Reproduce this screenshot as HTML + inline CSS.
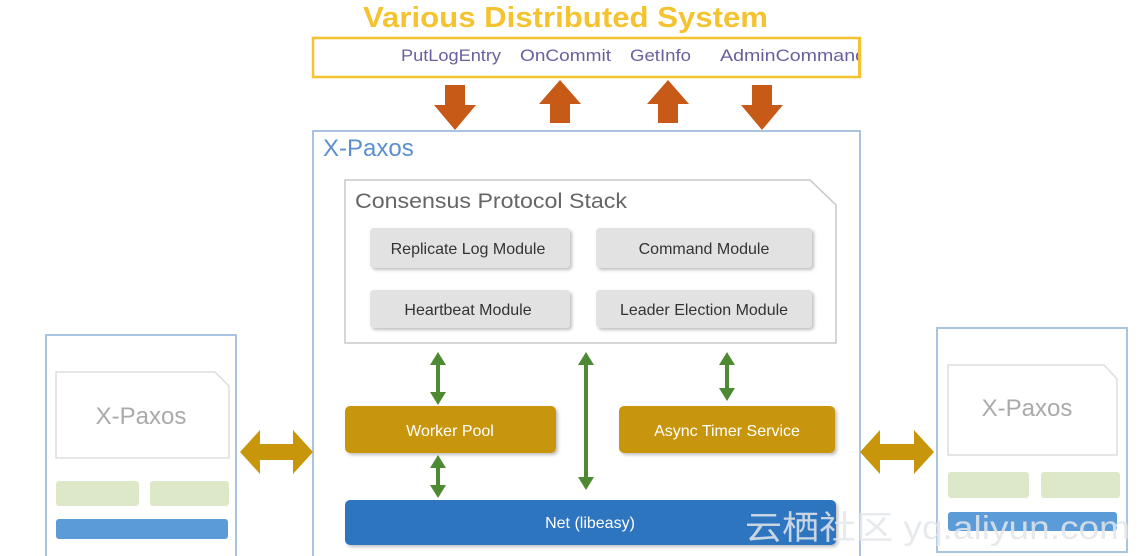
<!DOCTYPE html><html><head><meta charset="utf-8"><style>body{margin:0;background:#fff}svg{display:block}</style></head><body>
<svg width="1138" height="556" xmlns="http://www.w3.org/2000/svg" font-family="Liberation Sans, sans-serif">
<defs><filter id="sh" x="-10%" y="-20%" width="130%" height="150%"><feDropShadow dx="2" dy="2" stdDeviation="1.5" flood-color="#000" flood-opacity="0.25"/></filter>
<clipPath id="cb"><rect x="313" y="38" width="546" height="40"/></clipPath></defs>
<text x="363" y="27" textLength="405" lengthAdjust="spacingAndGlyphs" font-size="29" font-weight="bold" fill="#f5c330">Various Distributed System</text>
<rect x="313" y="38" width="547" height="39" fill="#fff" stroke="#f5c330" stroke-width="2.5"/>
<g font-size="17" fill="#6b5e9e" clip-path="url(#cb)"><text x="401" y="61" textLength="100" lengthAdjust="spacingAndGlyphs">PutLogEntry</text><text x="520" y="61" textLength="91" lengthAdjust="spacingAndGlyphs">OnCommit</text><text x="630" y="61" textLength="61" lengthAdjust="spacingAndGlyphs">GetInfo</text><text x="720" y="61" textLength="146" lengthAdjust="spacingAndGlyphs">AdminCommand</text></g>
<rect x="858" y="39" width="2.5" height="38" fill="#f5c330"/>
<g fill="#c85a18">
<polygon points="445,85 465,85 465,105 476,105 455,130 434,105 445,105"/>
<polygon points="550,123 570,123 570,104 581,104 560,80 539,104 550,104"/>
<polygon points="658,123 678,123 678,104 689,104 668,80 647,104 658,104"/>
<polygon points="752,85 772,85 772,105 783,105 762,130 741,105 752,105"/>
</g>
<rect x="313" y="131" width="547" height="430" fill="none" stroke="#a8c4e0" stroke-width="2"/>
<text x="323" y="156" font-size="24" fill="#5b8fd0">X-Paxos</text>
<polygon points="345,180 810,180 836,205 836,343 345,343" fill="#fff" stroke="#c8c8c8" stroke-width="1.5"/>
<text x="355" y="208" font-size="21" fill="#666" textLength="272" lengthAdjust="spacingAndGlyphs">Consensus Protocol Stack</text>
<g fill="#e2e2e2" filter="url(#sh)">
<rect x="370" y="228" width="200" height="40" rx="4"/><rect x="596" y="228" width="216" height="40" rx="4"/>
<rect x="370" y="290" width="200" height="38" rx="4"/><rect x="596" y="290" width="216" height="38" rx="4"/>
</g>
<g font-size="16" fill="#333" text-anchor="middle">
<text x="468" y="254">Replicate Log Module</text><text x="704" y="254">Command Module</text>
<text x="468" y="315">Heartbeat Module</text><text x="704" y="315">Leader Election Module</text>
</g>
<g stroke="#4e8a34" stroke-width="4"><line x1="438" y1="362" x2="438" y2="395"/><line x1="586" y1="362" x2="586" y2="480"/><line x1="727" y1="362" x2="727" y2="391"/><line x1="438" y1="465" x2="438" y2="488"/></g>
<g fill="#4e8a34">
<polygon points="438,352 430,365 446,365"/><polygon points="438,405 430,392 446,392"/>
<polygon points="586,352 578,365 594,365"/><polygon points="586,490 578,477 594,477"/>
<polygon points="727,352 719,365 735,365"/><polygon points="727,401 719,388 735,388"/>
<polygon points="438,455 430,468 446,468"/><polygon points="438,498 430,485 446,485"/>
</g>
<g filter="url(#sh)"><rect x="345" y="406" width="211" height="47" rx="5" fill="#c8960a"/><rect x="619" y="406" width="216" height="47" rx="5" fill="#c8960a"/>
<rect x="345" y="500" width="491" height="45" rx="5" fill="#2e75c0"/></g>
<g font-size="16" fill="#fff" text-anchor="middle"><text x="450" y="436">Worker Pool</text><text x="727" y="436">Async Timer Service</text><text x="590" y="528">Net (libeasy)</text></g>
<rect x="46" y="335" width="190" height="230" fill="none" stroke="#a8c4e0" stroke-width="2"/>
<polygon points="56,372 215,372 229,386 229,458 56,458" fill="#fff" stroke="#ddd" stroke-width="1.5"/>
<text x="141" y="424" text-anchor="middle" font-size="24" fill="#aaa">X-Paxos</text>
<rect x="56" y="481" width="83" height="25" rx="3" fill="#dde8c8"/><rect x="150" y="481" width="79" height="25" rx="3" fill="#dde8c8"/>
<rect x="56" y="519" width="172" height="20" rx="3" fill="#5b9bd8"/>
<rect x="937" y="328" width="190" height="224" fill="none" stroke="#a8c4e0" stroke-width="2"/>
<polygon points="948,365 1104,365 1117,379 1117,455 948,455" fill="#fff" stroke="#ddd" stroke-width="1.5"/>
<text x="1027" y="416" text-anchor="middle" font-size="24" fill="#aaa">X-Paxos</text>
<rect x="948" y="472" width="81" height="26" rx="3" fill="#dde8c8"/><rect x="1041" y="472" width="79" height="26" rx="3" fill="#dde8c8"/>
<rect x="948" y="512" width="169" height="19" rx="3" fill="#5b9bd8"/>
<g fill="#c8960a">
<polygon points="240,452 260,430 260,444 293,444 293,430 313,452 293,474 293,460 260,460 260,474"/>
<polygon points="860,452 880,430 880,444 914,444 914,430 934,452 914,474 914,460 880,460 880,474"/>
</g>
<text x="745" y="539" font-size="33" fill="#e3e7eb" opacity="0.85" textLength="385" lengthAdjust="spacingAndGlyphs" font-family="Liberation Sans, Noto Sans CJK SC, sans-serif">云栖社区 yq.aliyun.com</text>
</svg></body></html>
